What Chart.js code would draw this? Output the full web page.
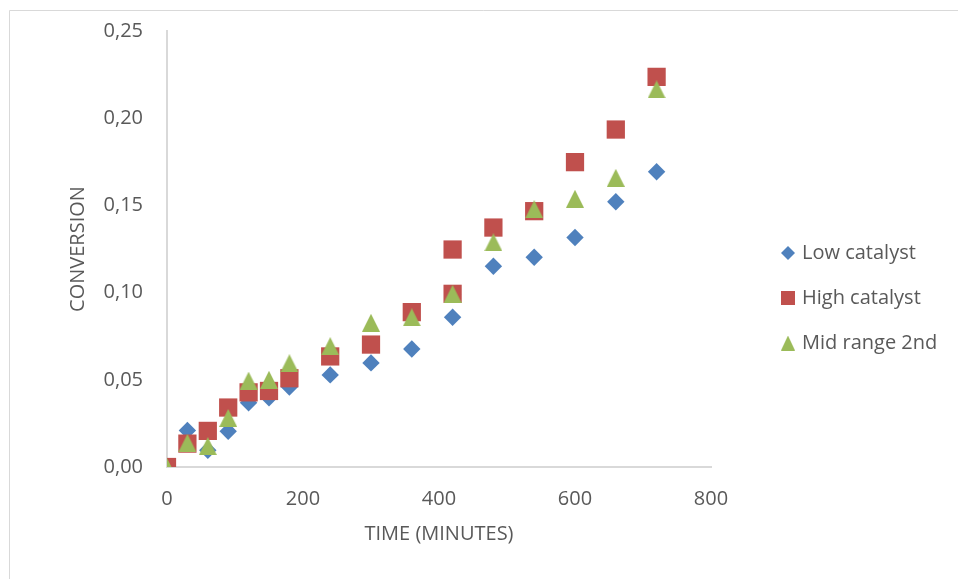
<!DOCTYPE html>
<html><head><meta charset="utf-8">
<script src="https://cdn.jsdelivr.net/npm/chart.js@4.4.1/dist/chart.umd.min.js"></script>
<style>html,body{margin:0;padding:0;background:#fff}canvas{display:block}</style>
</head><body>
<canvas id="c" width="958" height="579"></canvas>
<script>
// ---- data ----
const timeMinutes  = [0, 30, 60, 90, 120, 150, 180, 240, 300, 360, 420, 420, 480, 540, 600, 660, 720];
const lowCatalyst  = [0, 0.0210, 0.0096, 0.0205, 0.0368, 0.0397, 0.0459, 0.0528, 0.0597, 0.0677, 0.0859, 0.0990, 0.1151, 0.1203, 0.1316, 0.1521, 0.1693];
const highCatalyst = [0, 0.0134, 0.0207, 0.0341, 0.0428, 0.0436, 0.0509, 0.0634, 0.0702, 0.0888, 0.0993, 0.1247, 0.1373, 0.1467, 0.1748, 0.1935, 0.2237];
const midRange2nd  = [0, 0.0138, 0.0120, 0.0281, 0.0495, 0.0500, 0.0595, 0.0693, 0.0827, 0.0858, 0.0993, null, 0.1288, 0.1478, 0.1538, 0.1658, 0.2165];
const seriesNames  = ['Low catalyst', 'High catalyst', 'Mid range 2nd'];
const xTickValues  = [0, 200, 400, 600, 800];
const yTickValues  = [0, 0.05, 0.10, 0.15, 0.20, 0.25];
const xTitle = 'TIME (MINUTES)';
const yTitle = 'CONVERSION';

// ---- styling ----
const BLUE = '#4F81BD', RED = '#C0504D', GREEN = '#9BBB59', TEXT = '#595959', AXIS = '#D9D9D9';
const FONT = "'Open Sans', sans-serif";
const FS = 20;

function makeCanvas(w, h, draw) {
  const c = document.createElement('canvas'); c.width = w; c.height = h;
  const g = c.getContext('2d'); draw(g, w, h); return c;
}
function triangle(w, h, color) {
  return makeCanvas(w, h, (g) => { g.fillStyle = color; g.beginPath(); g.moveTo(w/2, 0); g.lineTo(w, h); g.lineTo(0, h); g.closePath(); g.fill(); });
}
function diamond(s, color) {
  return makeCanvas(s, s, (g) => { g.fillStyle = color; g.beginPath(); g.moveTo(s/2, 0); g.lineTo(s, s/2); g.lineTo(s/2, s); g.lineTo(0, s/2); g.closePath(); g.fill(); });
}
function square(s, color) {
  return makeCanvas(s, s, (g) => { g.fillStyle = color; g.fillRect(0, 0, s, s); });
}
const triMark = triangle(18, 18, GREEN);
const legendMarks = [diamond(14, BLUE), square(14, RED), triangle(14, 15, GREEN)];

function pts(ys) {
  const out = [];
  timeMinutes.forEach((t, i) => { if (ys[i] !== null) out.push({x: t, y: ys[i]}); });
  return out;
}

// layout numbers
const W = 958, H = 579;
const plotLeft = 167, plotRight = 711, plotBottom = 467, plotTop = 31;
const legendPad = 25, legendBox = 8, spacerW = 48;
const legendW = W - plotRight - spacerW;
const padBottom = 14;

Chart.defaults.font.family = FONT;
Chart.defaults.font.size = FS;
Chart.defaults.color = TEXT;

const framePlugin = {
  id: 'frame',
  beforeDraw(chart) {
    const g = chart.ctx;
    g.save();
    g.fillStyle = '#fff'; g.fillRect(0, 0, chart.width, chart.height);
    g.strokeStyle = AXIS; g.lineWidth = 1;
    g.beginPath(); g.moveTo(9.5, chart.height); g.lineTo(9.5, 10.5); g.lineTo(chart.width, 10.5); g.stroke();
    g.restore();
  }
};

const chart = new Chart(document.getElementById('c'), {
  type: 'scatter',
  data: {
    datasets: [
      { label: seriesNames[0], data: pts(lowCatalyst), pointStyle: 'rectRot', pointRadius: 8.7, backgroundColor: BLUE, borderWidth: 0, order: 3 },
      { label: seriesNames[1], data: pts(highCatalyst), pointStyle: 'rect', pointRadius: 12.9, backgroundColor: RED, borderWidth: 0, order: 2 },
      { label: seriesNames[2], data: pts(midRange2nd), pointStyle: triMark, pointRadius: 9, backgroundColor: GREEN, borderWidth: 0, order: 1 }
    ]
  },
  options: {
    responsive: false,
    animation: false,
    devicePixelRatio: 1,
    events: [],
    layout: { padding: { top: plotTop, right: 0, bottom: padBottom, left: 0 } },
    plugins: {
      tooltip: { enabled: false },
      legend: {
        position: 'right',
        maxWidth: legendW,
        labels: {
          usePointStyle: true,
          boxWidth: legendBox,
          padding: legendPad,
          color: TEXT,
          font: { size: FS, family: FONT },
          sort: (a, b) => a.datasetIndex - b.datasetIndex,
          generateLabels(chart) {
            return chart.data.datasets.map((ds, i) => ({
              text: ds.label, datasetIndex: i, pointStyle: legendMarks[i],
              fillStyle: ds.backgroundColor, strokeStyle: ds.backgroundColor, lineWidth: 0,
              hidden: false, fontColor: TEXT
            }));
          }
        }
      }
    },
    scales: {
      x: {
        type: 'linear', position: 'bottom',
        min: xTickValues[0], max: xTickValues[xTickValues.length - 1],
        afterBuildTicks: (s) => { s.ticks = xTickValues.map(v => ({value: v})); },
        grid: { display: false, drawTicks: false },
        border: { display: true, color: AXIS, width: 2 },
        ticks: { padding: 20, color: TEXT, font: { size: FS }, callback: (v) => String(v) },
        title: { display: true, text: xTitle, color: TEXT, font: { size: FS }, padding: { top: 0, bottom: 19 } },
        afterFit: (s) => { s.height = H - padBottom - plotBottom; }
      },
      y: {
        type: 'linear', position: 'left',
        min: yTickValues[0], max: yTickValues[yTickValues.length - 1],
        afterBuildTicks: (s) => { s.ticks = yTickValues.map(v => ({value: v})); },
        grid: { display: false, drawTicks: true, tickLength: 6 },
        border: { display: true, color: AXIS, width: 2 },
        ticks: { padding: 18, color: TEXT, font: { size: FS }, callback: (v) => Number(v).toFixed(2).replace('.', ',') },
        title: { display: true, text: yTitle, color: TEXT, font: { size: FS }, padding: { top: 66, bottom: 0 } },
        afterFit: (s) => { s.width = plotLeft; }
      },
      spacer: {
        type: 'linear', position: 'right', display: true,
        grid: { display: false, drawTicks: false },
        border: { display: false },
        ticks: { display: false },
        afterFit: (s) => { s.width = spacerW; }
      }
    }
  },
  plugins: [framePlugin]
});

// give the legend box a fixed width so the plot area ends where the reference's does
const legendBoxObj = chart.legend;
const origFit = legendBoxObj.fit.bind(legendBoxObj);
legendBoxObj.fit = function () { origFit(); this.width = legendW; };
chart.update();
</script>
</body></html>
